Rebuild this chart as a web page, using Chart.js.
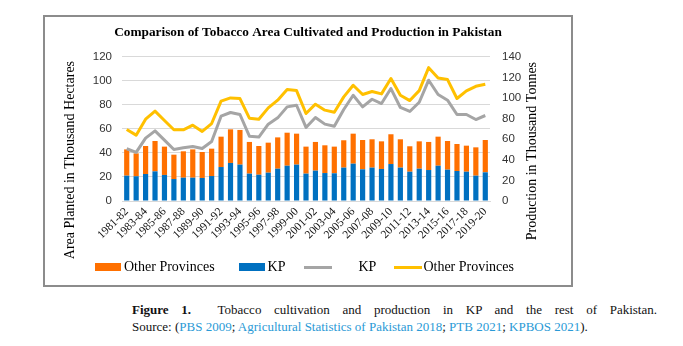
<!DOCTYPE html>
<html>
<head>
<meta charset="utf-8">
<script src="https://cdn.jsdelivr.net/npm/chart.js@4/dist/chart.umd.min.js"></script>
<style>
  html, body { margin: 0; padding: 0; background: #fff; }
  body { width: 683px; height: 346px; position: relative; overflow: hidden; }
  #frame { position: absolute; left: 43px; top: 15px; width: 530px; height: 272px; border: 2px solid #8c8c8c; box-sizing: border-box; background: #fff; }
  #chart { display: block; }
  #legend { position: absolute; left: 95px; top: 260px; height: 14px; display: flex; align-items: center; font: 14px "Liberation Serif", serif; color: #000; white-space: pre; }
  #legend .sw { display: inline-block; }
  #cap { position: absolute; left: 132px; top: 301px; width: 525px; font: 13px "Liberation Serif", serif; line-height: 17px; color: #111; }
  #cap .l1 { text-align: justify; text-align-last: justify; }
  #cap a { color: #2a9ad6; text-decoration: none; }
</style>
</head>
<body>
<div id="frame"><canvas id="chart" width="526" height="268"></canvas></div>
<div id="legend"></div>
<div id="cap">
  <div class="l1"><b style="margin-right:14px">Figure 1.</b> Tobacco cultivation and production in KP and the rest of Pakistan.</div>
  <div>Source: (<a>PBS 2009</a>; <a>Agricultural Statistics of Pakistan 2018</a>; <a>PTB 2021</a>; <a>KPBOS 2021</a>).</div>
</div>
<script>
const chartTitle = 'Comparison of Tobacco Area Cultivated and Production in Pakistan';
const leftAxisTitle = 'Area Planted in Thousand Hectares';
const rightAxisTitle = 'Production in Thousand Tonnes';

const categories = ['1981-82','1982-83','1983-84','1984-85','1985-86','1986-87','1987-88','1988-89','1989-90','1990-91',
  '1991-92','1992-93','1993-94','1994-95','1995-96','1996-97','1997-98','1998-99','1999-00','2000-01',
  '2001-02','2002-03','2003-04','2004-05','2005-06','2006-07','2007-08','2008-09','2009-10','2010-11',
  '2011-12','2012-13','2013-14','2014-15','2015-16','2016-17','2017-18','2018-19','2019-20'];

// Area planted (thousand hectares), stacked bars on left axis
const kpArea = [21.1,20.6,22.5,24.7,21.7,18.3,19.4,19.4,19.2,20.8,
  28.3,31.7,30.3,22.8,21.9,23.6,26.9,29.4,30.3,22.8,
  25.3,23.3,23.1,27.8,31.1,26.4,27.8,26.7,30.8,27.8,
  24.4,26.9,25.8,29.4,26.1,25.0,24.4,21.1,23.9];
const otherArea = [21.9,19.1,23.3,25.3,23.6,20.3,22.0,23.6,21.6,22.8,
  25.3,28.0,28.9,26.4,23.9,25.0,26.1,27.5,25.8,22.5,
  23.9,23.1,22.2,22.8,25.0,24.4,23.6,23.0,24.8,23.6,
  21.2,22.8,23.4,24.2,23.9,22.5,21.7,23.6,26.9];

// Production (thousand tonnes), stacked lines on right axis
const kpProduction = [50.8,47.2,61.1,68.2,59.2,50.1,51.7,53.0,51.1,57.9,
  82.4,86.0,84.1,63.0,62.1,74.7,80.8,91.5,93.1,71.5,
  81.2,74.7,72.7,88.9,102.8,91.5,98.9,94.7,109.3,90.9,
  87.0,96.0,117.4,103.5,98.0,84.1,84.1,79.2,83.1];
const otherProduction = [18.7,16.8,18.4,19.1,19.0,19.1,17.5,20.7,16.5,17.4,
  14.6,14.2,15.5,17.5,17.4,15.8,17.2,16.8,14.2,13.5,
  12.9,13.6,13.6,12.3,9.7,12.0,7.5,9.4,9.7,11.9,
  10.6,11.3,12.2,16.1,20.0,15.5,22.9,32.3,30.4];

const leftTicks = { min: 0, max: 120, step: 20 };
const rightTicks = { min: 0, max: 140, step: 20 };

const COLORS = { orange: '#FF7000', blue: '#0070C0', gray: '#A5A5A5', yellow: '#FFC000' };

const axisTitlePlugin = {
  id: 'axisTitles',
  afterDraw(chart) {
    const { ctx, chartArea, scales } = chart;
    ctx.save();
    ctx.font = '14px "Liberation Serif"';
    ctx.fillStyle = '#000';
    ctx.textAlign = 'right';
    ctx.textBaseline = 'middle';
    ctx.save();
    ctx.translate(scales.y.left + 25, chartArea.top + 4);
    ctx.rotate(-Math.PI / 2);
    ctx.fillText(leftAxisTitle, 0, 0);
    ctx.restore();
    ctx.save();
    ctx.translate(scales.y1.left + 42, chartArea.top + 5);
    ctx.rotate(-Math.PI / 2);
    ctx.fillText(rightAxisTitle, 0, 0);
    ctx.restore();
    ctx.restore();
  }
};

const tickFont = { family: 'Liberation Sans', size: 11.5 };

const chart = new Chart(document.getElementById('chart'), {
  type: 'bar',
  data: {
    labels: categories,
    datasets: [
      { type: 'line', label: 'KP', data: kpProduction, yAxisID: 'y1', borderColor: COLORS.gray, backgroundColor: COLORS.gray,
        borderWidth: 3, pointRadius: 0, tension: 0, borderJoinStyle: 'round', fill: false },
      { type: 'line', label: 'Other Provinces', data: otherProduction, yAxisID: 'y1', borderColor: COLORS.yellow, backgroundColor: COLORS.yellow,
        borderWidth: 3, pointRadius: 0, tension: 0, borderJoinStyle: 'round', fill: false },
      { type: 'bar', label: 'KP', data: kpArea, yAxisID: 'y', backgroundColor: COLORS.blue, borderWidth: 0,
        barPercentage: 0.55, categoryPercentage: 1 },
      { type: 'bar', label: 'Other Provinces', data: otherArea, yAxisID: 'y', backgroundColor: COLORS.orange, borderWidth: 0,
        barPercentage: 0.55, categoryPercentage: 1 }
    ]
  },
  options: {
    responsive: false,
    devicePixelRatio: 1,
    animation: false,
    layout: { padding: 0 },
    plugins: {
      legend: { display: false },
      tooltip: { enabled: false },
      title: {
        display: true, text: chartTitle, color: '#000',
        font: { family: 'Liberation Serif', size: 13.3, weight: 'bold' },
        padding: { top: 8, bottom: 16 }
      }
    },
    scales: {
      x: {
        stacked: true, offset: true,
        grid: { display: true, drawOnChartArea: false, drawTicks: false },
        border: { display: true, color: '#d9d9d9', width: 1 },
        ticks: {
          autoSkip: false, minRotation: 45, maxRotation: 45, padding: 4, color: '#111',
          font: { family: 'Liberation Serif', size: 11.5 },
          callback: function (value, index) { return index % 2 === 0 ? this.getLabelForValue(value) : ''; }
        },
        afterFit: (s) => { s.height = 84; }
      },
      y: {
        position: 'left', stacked: true, min: leftTicks.min, max: leftTicks.max,
        ticks: { stepSize: leftTicks.step, padding: 10, color: '#333', font: tickFont },
        grid: { color: '#d9d9d9', drawTicks: false },
        border: { display: false },
        afterFit: (s) => { s.width = 77; }
      },
      y1: {
        position: 'right', stacked: true, min: rightTicks.min, max: rightTicks.max,
        ticks: { stepSize: rightTicks.step, padding: 12, color: '#333', font: tickFont },
        grid: { display: false, drawTicks: false },
        border: { display: false },
        afterFit: (s) => { s.width = 81; }
      }
    }
  },
  plugins: [axisTitlePlugin]
});

// HTML legend built from the chart's datasets (bars first, then lines, as in the original)
(function buildLegend() {
  const ds = chart.data.datasets;
  const items = [
    { d: ds[3], kind: 'box', gapBefore: 0, gapText: 3 },
    { d: ds[2], kind: 'box', gapBefore: 24, gapText: 3 },
    { d: ds[0], kind: 'line', gapBefore: 18, gapText: 27 },
    { d: ds[1], kind: 'line', gapBefore: 18, gapText: 1 }
  ];
  const el = document.getElementById('legend');
  items.forEach(it => {
    const sw = document.createElement('span');
    sw.className = 'sw';
    sw.style.marginLeft = it.gapBefore + 'px';
    sw.style.width = (it.kind === 'box' ? 26 : 28) + 'px';
    sw.style.height = (it.kind === 'box' ? 8 : 3) + 'px';
    sw.style.background = it.kind === 'box' ? it.d.backgroundColor : it.d.borderColor;
    const tx = document.createElement('span');
    tx.style.marginLeft = it.gapText + 'px';
    tx.textContent = it.d.label;
    el.appendChild(sw);
    el.appendChild(tx);
  });
})();
</script>
</body>
</html>
